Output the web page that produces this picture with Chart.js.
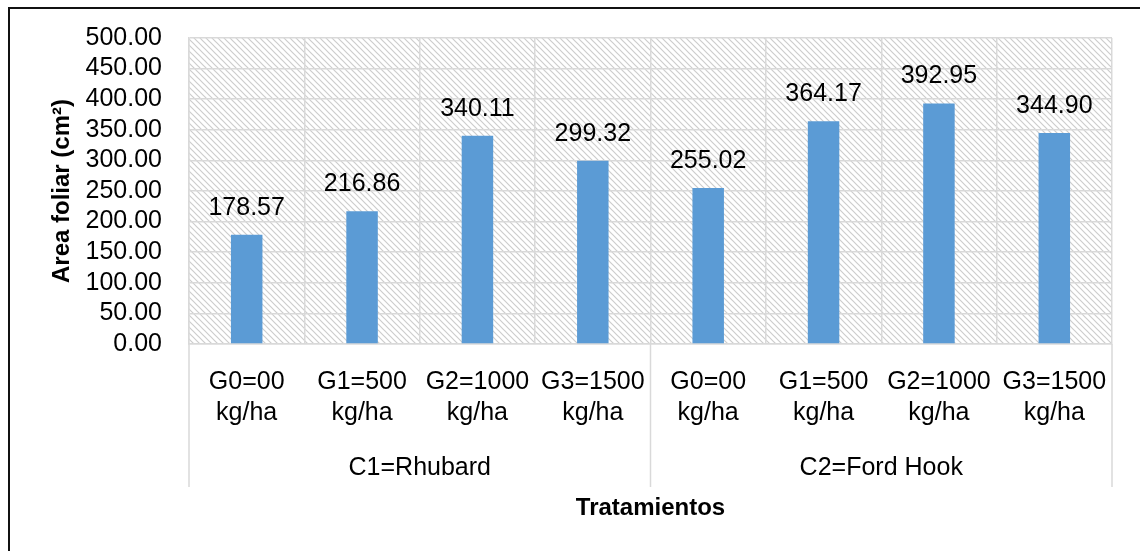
<!DOCTYPE html>
<html>
<head>
<meta charset="utf-8">
<script src="https://cdn.jsdelivr.net/npm/chart.js@4.4.1/dist/chart.umd.min.js"></script>
<style>
  html, body { margin: 0; padding: 0; background: #ffffff; }
  #wrap { width: 1140px; height: 551px; position: relative; }
</style>
</head>
<body>
<div id="wrap"><canvas id="chart" width="1140" height="551"></canvas></div>
<script>
// Cultivars (outer category level) and fertilizer doses (inner level)
const groups = ['C1=Rhubard', 'C2=Ford Hook'];
const doses = ['G0=00', 'G1=500', 'G2=1000', 'G3=1500'];
const doseUnit = 'kg/ha';

// Leaf area per treatment (cm²), in cultivar order
const leafArea = [178.57, 216.86, 340.11, 299.32, 255.02, 364.17, 392.95, 344.90];

// Y axis range
const yMin = 0;
const yMax = 500;
const yStep = 50;

const FONT = '"Liberation Sans", Arial, sans-serif';
const GRID = '#d9d9d9';

// Two-line tick label for each inner category
const tickLabels = [];
groups.forEach(() => doses.forEach(d => tickLabels.push([d, doseUnit])));

// Diagonal hatch used as plot background
function makeHatch() {
  const s = 6;
  const c = document.createElement('canvas');
  c.width = s; c.height = s;
  const g = c.getContext('2d');
  g.fillStyle = '#ffffff';
  g.fillRect(0, 0, s, s);
  g.strokeStyle = '#cdcdcd';
  g.lineWidth = 1.2;
  g.beginPath();
  g.moveTo(-1, -1); g.lineTo(s + 1, s + 1);
  g.moveTo(-1, s - 1); g.lineTo(1, s + 1);
  g.moveTo(s - 1, -1); g.lineTo(s + 1, 1);
  g.stroke();
  return g.createPattern(c, 'repeat');
}

const decor = {
  id: 'decor',
  beforeDraw(chart) {
    const { ctx, chartArea: a } = chart;
    ctx.save();
    ctx.fillStyle = '#ffffff';
    ctx.fillRect(0, 0, chart.width, chart.height);
    ctx.fillStyle = makeHatch();
    ctx.fillRect(a.left, a.top, a.right - a.left, a.bottom - a.top);
    // outer frame
    ctx.strokeStyle = '#111111';
    ctx.lineWidth = 2;
    ctx.strokeRect(9, 8, chart.width + 20, chart.height + 20);
    ctx.restore();
  },
  afterDatasetsDraw(chart) {
    const { ctx } = chart;
    const meta = chart.getDatasetMeta(0);
    ctx.save();
    ctx.fillStyle = '#000000';
    ctx.font = '25px ' + FONT;
    ctx.textAlign = 'center';
    ctx.textBaseline = 'middle';
    meta.data.forEach((bar, i) => {
      ctx.fillText(leafArea[i].toFixed(2), bar.x, bar.y - 27);
    });
    ctx.restore();
  },
  afterDraw(chart) {
    const { ctx, chartArea: a } = chart;
    const x = chart.scales.x;
    const n = doses.length;
    const half = (x.getPixelForValue(1) - x.getPixelForValue(0)) / 2;
    ctx.save();
    // separators between cultivar groups below the axis
    ctx.strokeStyle = GRID;
    ctx.lineWidth = 1.5;
    for (let g = 0; g <= groups.length; g++) {
      const idx = Math.min(g * n, tickLabels.length - 1);
      const px = g * n < tickLabels.length
        ? x.getPixelForValue(idx) - half
        : x.getPixelForValue(idx) + half;
      ctx.beginPath();
      ctx.moveTo(px, a.bottom);
      ctx.lineTo(px, 487);
      ctx.stroke();
    }
    // cultivar labels
    ctx.fillStyle = '#000000';
    ctx.font = '25px ' + FONT;
    ctx.textAlign = 'center';
    ctx.textBaseline = 'middle';
    groups.forEach((name, g) => {
      const l = x.getPixelForValue(g * n) - half;
      const r = x.getPixelForValue(g * n + n - 1) + half;
      ctx.fillText(name, (l + r) / 2, 468);
    });
    ctx.restore();
  }
};

new Chart(document.getElementById('chart'), {
  type: 'bar',
  data: {
    labels: tickLabels,
    datasets: [{
      data: leafArea,
      backgroundColor: '#5b9bd5',
      borderWidth: 0,
      barPercentage: 0.273,
      categoryPercentage: 1.0
    }]
  },
  options: {
    responsive: false,
    animation: false,
    layout: { padding: { left: 10, top: 38, right: 28, bottom: 0 } },
    plugins: {
      legend: { display: false },
      tooltip: { enabled: false }
    },
    scales: {
      x: {
        grid: { offset: true, color: GRID, lineWidth: 1.5, drawTicks: false },
        border: { color: GRID, width: 1.5 },
        ticks: {
          color: '#000000',
          font: { family: FONT, size: 25, lineHeight: 1.24 },
          padding: 22.5,
          maxRotation: 0,
          autoSkip: false
        },
        title: {
          display: true,
          text: 'Tratamientos',
          color: '#000000',
          font: { family: FONT, size: 24, weight: 'bold' },
          padding: { top: 0, bottom: 28 }
        },
        afterFit(scale) {
          scale.height = 551 - 344;
          scale.paddingLeft = 0;
          scale.paddingRight = 0;
        }
      },
      y: {
        min: yMin,
        max: yMax,
        grid: { color: GRID, lineWidth: 1.5, drawTicks: false },
        border: { color: GRID, width: 1.5 },
        ticks: {
          stepSize: yStep,
          autoSkip: false,
          color: '#000000',
          font: { family: FONT, size: 25 },
          padding: 27,
          callback: v => Number(v).toFixed(2)
        },
        title: {
          display: true,
          text: 'Area foliar (cm²)',
          color: '#000000',
          font: { family: FONT, size: 24, weight: 'bold' },
          padding: { top: 38, bottom: 0 }
        },
        afterFit(scale) {
          scale.width = 189 - 10;
          scale.paddingTop = 0;
          scale.paddingBottom = 0;
        }
      }
    }
  },
  plugins: [decor]
});
</script>
</body>
</html>
